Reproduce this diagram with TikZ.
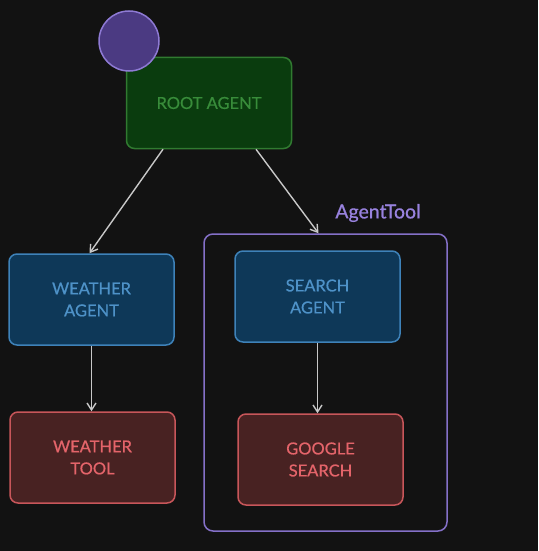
\documentclass[tikz,border=0pt]{standalone}
\usepackage{fontspec}
\setmainfont{Lato}
\newfontfamily\boxfont{Lato}[FakeBold=0.7]
\usetikzlibrary{positioning,arrows.meta,calc}
\definecolor{bgdark}{RGB}{18,18,18}
\definecolor{rootfill}{RGB}{10,60,14}
\definecolor{rootline}{RGB}{48,122,48}
\definecolor{roottext}{RGB}{56,140,58}
\definecolor{agentfill}{RGB}{14,56,88}
\definecolor{agentline}{RGB}{62,130,185}
\definecolor{agenttext}{RGB}{78,146,200}
\definecolor{toolfill}{RGB}{72,34,34}
\definecolor{toolline}{RGB}{200,86,90}
\definecolor{tooltext}{RGB}{228,100,106}
\definecolor{wrapline}{RGB}{132,112,200}
\definecolor{wraptext}{RGB}{152,130,222}
\definecolor{dotfill}{RGB}{75,58,130}
\definecolor{dotline}{RGB}{142,122,212}
\definecolor{linkgray}{RGB}{200,200,200}

\begin{document}
\begin{tikzpicture}[x=1pt, y=-1pt,
    box/.style={rectangle, rounded corners=8pt, line width=1.5pt,
                minimum width=165pt, minimum height=91pt, align=center,
                font=\boxfont\fontsize{16.5}{22}\selectfont},
    rootbox/.style={box, draw=rootline, fill=rootfill, text=roottext},
    agentbox/.style={box, draw=agentline, fill=agentfill, text=agenttext},
    toolbox/.style={box, draw=toolline, fill=toolfill, text=tooltext},
    link/.style={-{Straight Barb[length=7pt,width=9pt]}, line width=1.4pt, color=linkgray},
]
\useasboundingbox[fill=bgdark] (0,0) rectangle (538,551);

% Wrapper
\node[draw=wrapline, line width=1.5pt, rounded corners=9pt,
      minimum width=243pt, minimum height=297pt] (agenttool) at (325.5, 382.5) {};
\node[font=\boxfont\fontsize{19.5}{22}\selectfont, text=wraptext] (wraplabel) at (378, 213) {AgentTool};

% Agent nodes
\node[rootbox] (root) at (209, 103) {ROOT AGENT};
\node[agentbox] (weather) at (91.5, 299.5) {WEATHER\\AGENT};
\node[agentbox] (search) at (317.5, 296.5) {SEARCH\\AGENT};

% Tool nodes
\node[toolbox] (weathertool) at (92.5, 457.5) {WEATHER\\TOOL};
\node[toolbox] (google) at (320.5, 459.5) {GOOGLE\\SEARCH};

% Avatar
\node[circle, minimum size=60pt, inner sep=0pt, fill=dotfill, draw=dotline,
      line width=1.5pt] (avatar) at (129, 41) {};

% Connections
\draw[link] ([xshift=-46pt]root.south) -- ([xshift=-2pt]weather.north);
\draw[link] ([xshift=47pt]root.south) -- ([xshift=-7pt]agenttool.north);
\draw[link] (weather) -- (weather |- weathertool.north);
\draw[link] (search) -- (search |- google.north);

\end{tikzpicture}
\end{document}
